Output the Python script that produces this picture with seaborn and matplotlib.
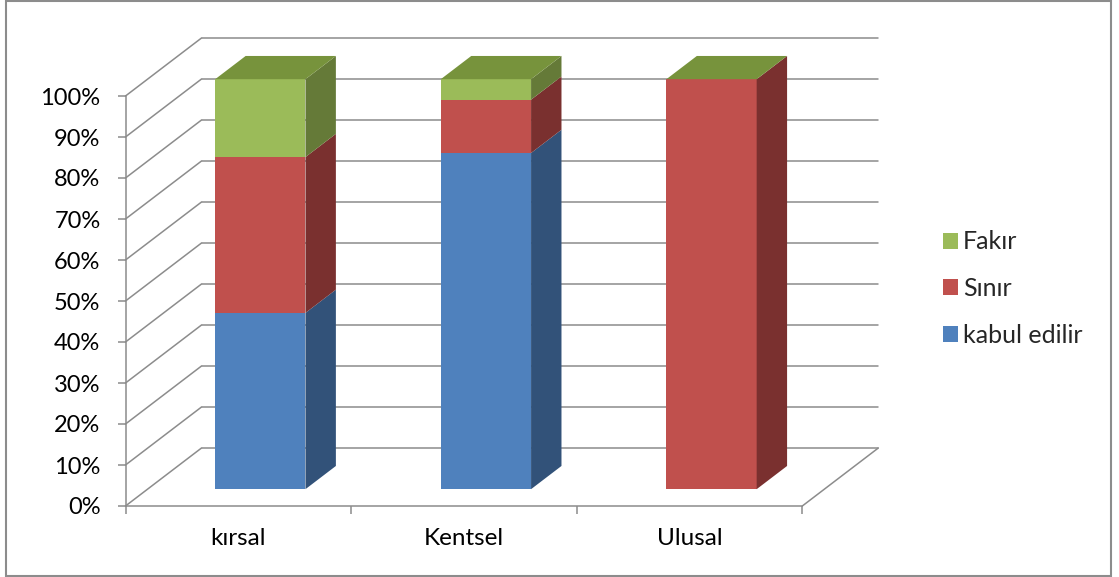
import numpy as np
import pandas as pd
import matplotlib
matplotlib.use("Agg")
import matplotlib.pyplot as plt
import seaborn as sns
from matplotlib.patches import Polygon, Rectangle
from matplotlib.lines import Line2D
from matplotlib.transforms import Affine2D

# ---------------- data ----------------
categories = ["kırsal", "Kentsel", "Ulusal"]
series_names = ["kabul edilir", "Sınır", "Fakır"]
kabul_edilir = [43, 82, 0]
sinir = [38, 13, 100]
fakir = [19, 5, 0]
y_ticks = [0, 10, 20, 30, 40, 50, 60, 70, 80, 90, 100]
y_tick_labels = [f"{t}%" for t in y_ticks]

front_colors = ["#4F81BD", "#C0504D", "#9BBB59"]
side_colors = ["#325279", "#7A302F", "#657A38"]
top_color = "#77933C"
grid_color = "#8C8C8C"

# ---------------- setup ----------------
sns.set_theme(style="white")
plt.rcParams['font.family'] = ['Lato', 'DejaVu Sans']
FS_Y = 17
FS_X = 17.5
FS_LEG = 18

W, H = 1119, 577
fig = plt.figure(figsize=(W / 100, H / 100), dpi=100)
fig.patch.set_facecolor("white")


def px_rect(l, t, r, b):
    return [l / W, 1 - b / H, (r - l) / W, (b - t) / H]


ax = fig.add_axes(px_rect(125.5, 96, 802.3, 506))
ax.set_facecolor("none")

# oblique depth vector (full depth of the plot box) in data units
DX, DY = 0.337, 14.15
front_depth, bar_depth = 0.29, 0.40
fx, fy = front_depth * DX, front_depth * DY
bdx, bdy = bar_depth * DX, bar_depth * DY
bar_w = 0.40

df = pd.DataFrame({"category": categories,
                   "kabul edilir": kabul_edilir,
                   "Sınır": sinir,
                   "Fakır": fakir})
cum = df[series_names].cumsum(axis=1)

# front faces: draw cumulative totals from the top series down
for k in reversed(range(len(series_names))):
    sns.barplot(x=df["category"], y=cum[series_names[k]], order=categories,
                color=front_colors[k], saturation=1, width=bar_w,
                errorbar=None, ax=ax, zorder=3, linewidth=0)

shift = Affine2D().translate(fx, fy) + ax.transData
for p in ax.patches:
    p.set_transform(shift)
    p.set_clip_on(False)

# side and top faces built from the same values
for i in range(len(categories)):
    xr = i + bar_w / 2 + fx
    xl = i - bar_w / 2 + fx
    bottom = 0
    for k, name in enumerate(series_names):
        top = cum.loc[i, name]
        if top > bottom:
            poly = Polygon([(xr, bottom + fy), (xr + bdx, bottom + fy + bdy),
                            (xr + bdx, top + fy + bdy), (xr, top + fy)],
                           closed=True, facecolor=side_colors[k], edgecolor="none",
                           zorder=3, clip_on=False)
            ax.add_patch(poly)
        bottom = top
    T = cum.loc[i, series_names[-1]]
    ax.add_patch(Polygon([(xl, T + fy), (xr, T + fy), (xr + bdx, T + fy + bdy),
                          (xl + bdx, T + fy + bdy)], closed=True,
                         facecolor=top_color, edgecolor="none", zorder=3, clip_on=False))

# walls: back wall gridlines, side wall diagonals, floor
x0, x1 = -0.5, len(categories) - 0.5
for y in y_ticks:
    ax.add_line(Line2D([x0 + DX, x1 + DX], [y + DY, y + DY], color=grid_color,
                       lw=1.1, zorder=1, clip_on=False))
    ax.add_line(Line2D([x0, x0 + DX], [y, y + DY], color=grid_color,
                       lw=1.1, zorder=1, clip_on=False))
ax.add_line(Line2D([x1, x1 + DX], [0, DY], color=grid_color, lw=1.1,
                   zorder=1, clip_on=False))

ax.set_xlim(x0, x1)
ax.set_ylim(0, 100)

for s in ["top", "right"]:
    ax.spines[s].set_visible(False)
for s in ["left", "bottom"]:
    ax.spines[s].set_color(grid_color)
    ax.spines[s].set_linewidth(1.1)
    ax.spines[s].set_zorder(1)

ax.set_yticks(y_ticks)
ax.set_yticklabels(y_tick_labels)
ax.tick_params(axis="y", direction="out", length=6, width=1.1, color=grid_color,
               pad=12, labelsize=FS_Y, labelcolor="black", left=True)
ax.set_xticks(range(len(categories)))
ax.set_xticklabels(categories)
ax.set_xticks(np.arange(x0, x1 + 0.01, 1.0), minor=True)
ax.tick_params(axis="x", which="major", length=0, pad=16, labelsize=FS_X,
               labelcolor="black")
ax.tick_params(axis="x", which="minor", direction="out", length=6, width=1.1,
               color=grid_color, bottom=True)
ax.set_xlabel("")
ax.set_ylabel("")

# legend
handles = [Rectangle((0, 0), 1, 1, facecolor=front_colors[k], edgecolor="none")
           for k in reversed(range(len(series_names)))]
labels = list(reversed(series_names))
fs_px = FS_LEG / 0.72
leg = fig.legend(handles, labels, loc="center left",
                 bbox_to_anchor=(942.7 / W, 1 - 288.7 / H),
                 frameon=False, fontsize=FS_LEG, borderpad=0, borderaxespad=0,
                 handlelength=15 / fs_px, handleheight=15 / fs_px,
                 handletextpad=5 / fs_px, labelspacing=0.95)

# outer chart border
fig.add_artist(Rectangle((6 / W, 1 - 576 / H), (1111 - 6) / W, (575) / H,
                         transform=fig.transFigure, fill=False,
                         edgecolor="#8C8C8C", lw=1.5))

fig.savefig("out.png", dpi=100, facecolor="white")
